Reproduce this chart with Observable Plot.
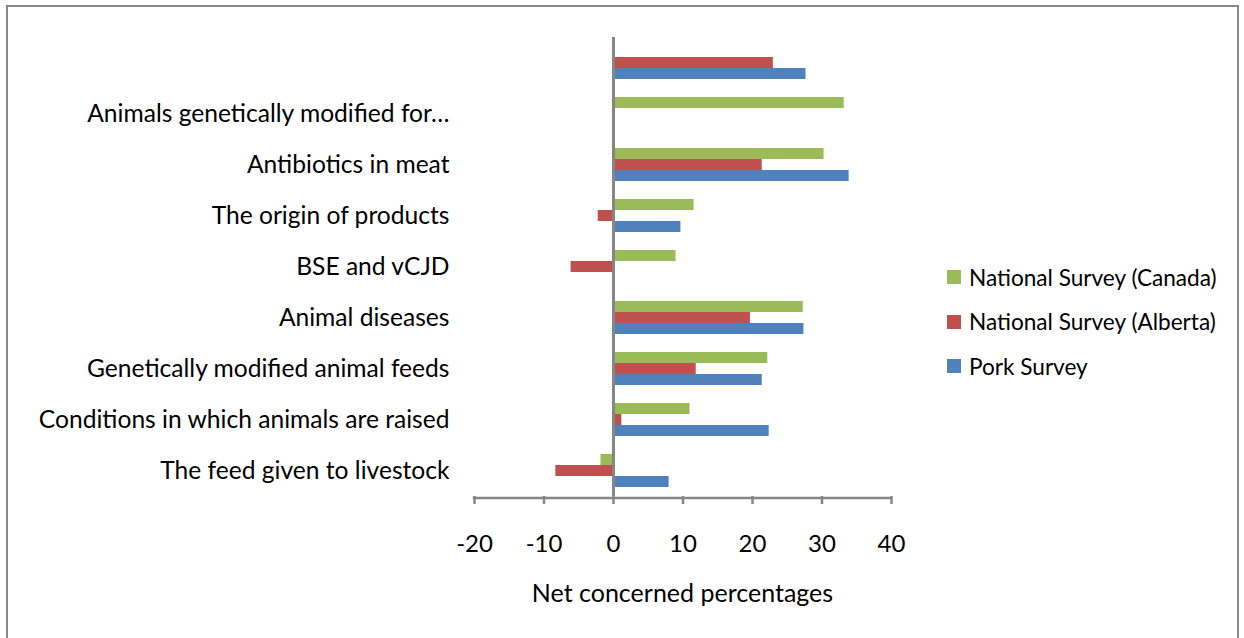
<!DOCTYPE html>
<html>
<head>
<meta charset="utf-8">
<script src="https://cdn.jsdelivr.net/npm/d3@7"></script>
<script src="https://cdn.jsdelivr.net/npm/@observablehq/plot@0.6"></script>
<style>
  html, body { margin: 0; padding: 0; background: #fff; }
  #wrap { position: relative; width: 1244px; height: 638px; overflow: hidden; font-family: Lato, sans-serif; }
  #frame { position: absolute; left: 6px; top: 5px; width: 1233px; height: 700px; border: 2px solid #888; box-sizing: border-box; }
  #chart { position: absolute; left: 0; top: 0; }
  #legend { position: absolute; left: 947px; top: 255px; font-size: 22.6px; color: #000; }
  .item { display: flex; align-items: center; height: 44.5px; }
  .sw { width: 14px; height: 14px; margin-right: 8px; }
</style>
</head>
<body>
<div id="wrap">
  <div id="frame"></div>
  <div id="chart"></div>
  <div id="legend"></div>
</div>
<script>
const categories = [
  "",
  "Animals genetically modified for…",
  "Antibiotics in meat",
  "The origin of products",
  "BSE and vCJD",
  "Animal diseases",
  "Genetically modified animal feeds",
  "Conditions in which animals are raised",
  "The feed given to livestock"
];
const seriesNames = ["National Survey (Canada)", "National Survey (Alberta)", "Pork Survey"];
const seriesColors = ["#9BBB59", "#C0504D", "#4F81BD"];
const canada  = [null, 33.2, 30.3, 11.6, 9.0, 27.3, 22.2, 11.0, -1.8];
const alberta = [23.0, null, 21.4, -2.2, -6.1, 19.7, 11.9, 1.2, -8.3];
const pork    = [27.7, null, 33.9, 9.7, null, 27.4, 21.4, 22.4, 8.0];
const xTicks = [-20, -10, 0, 10, 20, 30, 40];
const xTitle = "Net concerned percentages";

const seriesValues = [canada, alberta, pork];
const rows = [];
categories.forEach((c, i) => {
  seriesNames.forEach((s, j) => {
    const v = seriesValues[j][i];
    if (v != null) rows.push({category: c, series: s, value: v});
  });
});

const plot = Plot.plot({
  width: 1244,
  height: 638,
  marginLeft: 474,
  marginRight: 353,
  marginTop: 34,
  marginBottom: 140,
  style: {fontFamily: "Lato, sans-serif", background: "transparent", color: "#000"},
  x: {domain: [-20, 40]},
  y: {domain: seriesNames, paddingInner: 0, paddingOuter: 0.76, axis: null},
  fy: {domain: categories, padding: 0},
  color: {domain: seriesNames, range: seriesColors},
  marks: [
    Plot.barX(rows, {fy: "category", y: "series", x: "value", fill: "series"}),
    Plot.ruleX([0], {stroke: "#868686", strokeWidth: 3}),
    Plot.axisFy({anchor: "left", tickSize: 0, tickPadding: 25, fontSize: 24.6, label: null, fill: "#000"}),
    Plot.axisX({ticks: xTicks, tickSize: 8, stroke: "#868686", strokeWidth: 2.5, tickPadding: 30,
      fontSize: 24, fill: "#000", label: null, tickFormat: d => String(d)})
  ]
});
document.getElementById("chart").appendChild(plot);

// horizontal axis baseline and title, placed from the plot's own scales
const xs = plot.scale("x"), fys = plot.scale("fy");
const yb = Math.max(...fys.range);
const svg = d3.select(plot);
svg.append("line")
  .attr("x1", xs.apply(-20) - 1.25).attr("x2", xs.apply(40) + 1.25)
  .attr("y1", yb).attr("y2", yb)
  .attr("stroke", "#868686").attr("stroke-width", 2.5);
svg.append("text")
  .attr("x", (xs.apply(-20) + xs.apply(40)) / 2)
  .attr("y", yb + 95)
  .attr("dy", "0.35em")
  .attr("text-anchor", "middle")
  .attr("font-size", 25)
  .attr("fill", "#000")
  .text(xTitle);

const legend = d3.select("#legend");
seriesNames.forEach((s, j) => {
  const it = legend.append("div").attr("class", "item");
  it.append("div").attr("class", "sw").style("background", seriesColors[j]);
  it.append("span").text(s);
});
</script>
</body>
</html>
